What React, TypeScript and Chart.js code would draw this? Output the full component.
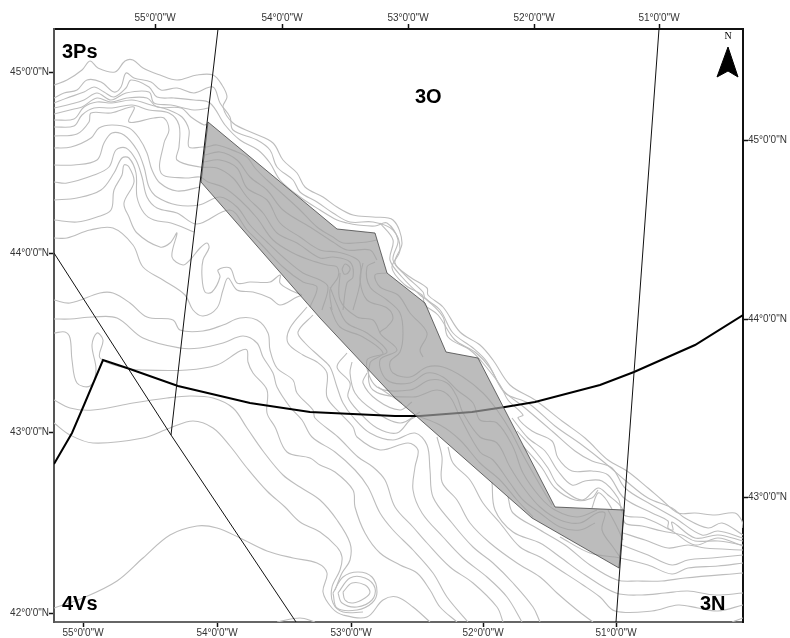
import React, { useEffect, useRef } from "react";
import { Chart, registerables } from "chart.js";

Chart.register(...registerables);

// Map units: easting / southing across the map frame.
const xMin = 54, xMax = 743, yMin = 29, yMax = 622;

const topTickValues = [155, 282, 408, 534, 659];
const topTickLabels = ["55°0'0\"W", "54°0'0\"W", "53°0'0\"W", "52°0'0\"W", "51°0'0\"W"];
const bottomTickValues = [83, 217, 351, 483, 616];
const bottomTickLabels = ["55°0'0\"W", "54°0'0\"W", "53°0'0\"W", "52°0'0\"W", "51°0'0\"W"];
const leftTickValues = [72, 253, 432, 613];
const leftTickLabels = ["45°0'0\"N", "44°0'0\"N", "43°0'0\"N", "42°0'0\"N"];
const rightTickValues = [140, 319, 497];
const rightTickLabels = ["45°0'0\"N", "44°0'0\"N", "43°0'0\"N"];

const divisionNames = ["3Ps", "3O", "4Vs", "3N"];
const divisionAnchors = [[62, 52], [415, 97], [62, 604], [700, 604]];

type P = number[][];

const closedArea: P = [[208,122],[201,182],[320,318],[395,398],[415,415],[532,518],[619,568],[624,510],[555,507],[478,358],[446,352],[425,303],[387,273],[375,233],[337,229],[208,122]];
const boundaryLine: P = [[54,464],[72,433],[84,405],[103,360],[127,368],[178,386],[250,403],[310,412],[395,416],[420,416],[472,412],[505,407],[535,402],[600,385],[634,372],[695,345],[743,315]];
const divisionLineA: P = [[218,29],[184,320],[171,435]];
const divisionLineB: P = [[54,253],[171,435],[296,622]];
const divisionLineC: P = [[659,29],[638,318],[624,510],[616,622]];
const northArrow: P = [[728,47],[717,77],[728,71],[738,77],[728,47]];
const northLabelAnchor = [[728, 36]];

const slope1: P = [[54,85],[67,80],[82,70],[90,61],[98,68],[115,72],[125,61],[133,60],[143,68],[160,75],[177,80],[197,75],[213,75],[222,85],[227,97],[223,107],[233,123],[253,133],[273,143],[283,160],[297,173],[305,187],[323,197],[337,207],[353,215],[373,217],[393,220],[402,243],[395,263],[410,277],[427,288],[428,295],[443,307],[460,332],[480,345],[493,360],[510,385],[535,400],[562,421],[585,438],[608,460],[627,471],[648,488],[662,500],[678,513],[695,513],[715,515],[735,513],[742,521],[743,528]];
const slope2: P = [[54,98],[64,93],[77,90],[87,80],[101,82],[114,92],[121,87],[126,73],[134,78],[151,82],[161,90],[177,88],[194,93],[213,87],[220,103],[230,117],[233,130],[257,140],[270,150],[277,167],[293,180],[300,192],[317,202],[333,213],[350,222],[373,222],[393,230],[400,250],[392,268],[405,285],[422,295],[425,305],[438,315],[455,340],[475,352],[490,368],[505,393],[528,403],[555,426],[582,445],[605,463],[626,481],[648,498],[672,508],[685,518],[708,528],[722,523],[743,535]];
const slope3: P = [[54,103],[67,98],[84,92],[94,87],[104,92],[114,97],[126,88],[131,80],[149,87],[157,97],[174,98],[194,100],[210,103],[225,125],[240,140],[258,150],[270,163],[280,180],[300,197],[320,210],[337,220],[347,223],[358,225],[375,226],[387,223],[398,240],[393,260],[405,275],[423,292],[425,298],[440,310],[453,333],[473,348],[487,362],[503,390],[525,408],[552,431],[575,451],[592,461],[612,468],[625,488],[652,505],[675,518],[702,535],[718,531],[743,538]];
const slope4: P = [[380,223],[393,240],[390,260],[402,277],[420,295],[427,300],[443,317],[448,337],[470,350],[482,362],[500,385],[508,400],[523,415],[518,418],[532,431],[552,441],[558,458],[572,471],[592,471],[608,475],[624,498],[652,513],[668,521],[668,528],[673,530],[672,522],[695,538],[718,535],[743,541]];
const slope5: P = [[512,418],[528,438],[545,451],[558,471],[572,485],[585,481],[602,481],[618,498],[624,515],[645,518],[672,531],[695,545],[718,538],[743,546]];
const slope6: P = [[517,431],[535,451],[548,468],[558,485],[582,500],[598,488],[608,495],[622,508],[625,523],[642,526],[662,531],[682,535],[695,541],[718,541],[743,545]];
const slope7: P = [[523,446],[542,468],[555,488],[575,500],[592,498],[598,490]];
const hillock: P = [[592,508],[598,493],[605,498],[612,509]];

const bend1: P = [[54,108],[71,104],[84,100],[97,93],[111,100],[126,93],[149,92],[154,103],[171,105],[194,110],[209,108]];
const bend2: P = [[54,114],[74,109],[82,107],[97,98],[111,102],[127,98],[147,98],[157,107],[181,108],[191,117],[204,125],[207,124]];
const bend3: P = [[54,120],[74,119],[84,107],[97,102],[112,103],[132,100],[151,105],[169,110],[182,117],[189,130],[189,147],[202,147],[207,147]];
const bend4: P = [[54,127],[74,126],[82,115],[94,108],[112,108],[132,105],[149,110],[169,113],[179,125],[179,147],[177,160],[200,167],[217,168],[233,178],[247,197],[263,213],[277,233],[297,243],[320,258],[333,257],[350,262],[353,277],[347,283],[343,310]];
const bend5: P = [[54,136],[77,134],[89,122],[91,113],[111,113],[134,107],[129,122],[154,118],[164,118],[169,130],[164,143],[161,173],[185,178],[200,177],[208,182],[223,187],[240,200],[257,218],[273,240],[293,253],[310,260],[327,265],[337,267],[338,277],[330,290],[332,310]];
const bend6: P = [[54,148],[71,147],[91,138],[99,128],[112,125],[129,128],[139,138],[147,153],[152,170],[160,183],[177,191],[200,187]];
const bend7: P = [[54,165],[74,165],[97,160],[104,143],[112,133],[124,135],[137,150],[144,167],[149,187],[157,197],[177,205],[199,205],[220,197],[237,207],[250,225],[267,242],[283,257],[303,273],[320,280],[328,287],[322,310]];
const bend8: P = [[54,182],[67,183],[94,175],[109,167],[116,150],[126,148],[136,160],[142,177],[147,197],[157,208],[177,213],[197,224],[230,210],[247,230],[260,243],[283,267],[303,282],[317,287],[310,307]];
const bend9: P = [[54,200],[77,198],[101,190],[114,173],[122,158],[129,158],[136,173],[137,197],[144,213],[154,220],[171,223],[194,232]];
const bend10: P = [[54,220],[77,222],[97,217],[111,210],[114,190],[122,175],[124,165],[129,167],[134,182],[124,203],[129,217],[137,233],[160,247],[170,243],[177,233],[172,257],[183,265],[190,260],[200,248],[207,243],[209,248],[203,260],[202,277],[205,292],[212,292],[220,277],[218,270],[230,268],[237,283],[250,282],[270,282],[280,275],[280,283],[290,290],[302,295]];
const bend11: P = [[54,238],[67,238],[90,230],[113,228],[133,245],[143,267],[163,280],[185,295],[193,310],[203,316],[217,308],[223,290],[228,278],[237,290],[253,292],[270,298],[280,305],[297,297],[302,295]];
const bend12: P = [[54,300],[70,303],[100,293],[113,293],[130,303],[147,317],[173,320],[180,330],[203,331],[223,325],[240,318],[257,320],[268,333],[270,350],[277,368],[293,380],[297,393],[313,410],[315,418],[338,437],[358,457],[373,467],[385,480],[395,507],[413,527],[427,543],[450,567],[473,583],[497,607],[503,622]];
const bend13: P = [[54,319],[70,319],[93,317],[117,318],[143,338],[180,348],[200,348],[223,343],[243,336],[257,343],[263,357],[273,373],[277,387],[290,407],[302,420],[312,437],[335,452],[355,470],[368,487],[380,513],[393,530],[413,550],[433,573],[447,597],[468,622]];
const bend14: P = [[54,333],[65,332],[70,338],[72,360],[77,383],[90,386],[96,370],[92,345],[97,333],[103,340],[100,358],[125,368],[143,370],[187,370],[217,365],[240,351],[247,350],[248,362],[253,373],[267,390],[267,413],[275,427],[287,452],[310,458],[320,465],[335,472],[353,490],[355,507],[365,533],[380,553],[400,565],[417,573],[430,590],[440,607],[457,622]];
const bend15: P = [[54,400],[70,408],[93,410],[133,403],[167,398],[190,396],[213,398],[233,408],[247,428],[263,451],[283,475],[300,487],[320,500],[337,520],[350,543],[350,560],[342,573],[335,590]];
const bend16: P = [[54,423],[70,435],[93,443],[143,438],[170,428],[193,421],[213,428],[230,446],[247,468],[267,491],[285,507],[300,522],[320,532],[337,547],[342,557],[340,570],[332,587],[333,603],[343,612],[363,612]];
const bend17: P = [[54,608],[83,598],[117,581],[143,558],[170,535],[197,526],[217,528],[240,538],[267,551],[293,558],[317,563],[327,573],[323,592],[332,608],[343,615],[367,617],[383,600],[397,597],[413,607],[430,622]];
const bump: P = [[277,622],[300,618],[315,622]];
const seamount1: P = [[343,592],[352,583],[365,585],[370,592],[365,598],[353,603],[345,600],[343,592]];
const seamount2: P = [[338,593],[350,578],[365,578],[375,588],[372,600],[357,607],[342,603],[338,593]];
const seamount3: P = [[333,593],[343,577],[358,572],[372,577],[377,592],[372,603],[357,610],[337,608],[333,593]];

const trough1: P = [[307,307],[290,328],[288,343],[303,355],[317,362],[327,373],[327,397],[340,413],[353,427],[357,437],[380,450],[408,443],[418,450],[415,467],[413,490],[422,513],[443,537],[463,558],[487,577],[507,597],[522,622]];
const trough2: P = [[313,315],[298,332],[305,343],[320,357],[330,367],[337,387],[343,403],[353,417],[370,433],[393,440],[415,433],[427,445],[430,470],[433,497],[452,523],[473,547],[493,563],[513,583],[533,607],[540,622]];
const trough3: P = [[347,353],[337,367],[350,383],[348,397],[360,413],[377,428],[397,433],[410,420],[415,417]];
const trough4: P = [[352,362],[350,373],[355,393],[373,410],[400,423],[420,412]];
const trough5: P = [[367,373],[363,383],[377,400],[400,410],[412,402]];
const trough6: P = [[378,387],[393,397],[402,403]];
const fan1: P = [[437,437],[442,457],[442,482],[457,500],[470,523],[490,543],[517,563],[540,577],[557,593],[577,610],[593,622]];
const fan2: P = [[448,447],[453,463],[470,480],[483,503],[500,523],[520,547],[540,557],[560,570],[583,585],[600,597],[615,611],[652,611],[678,605],[698,608],[718,611],[743,605]];
const fan3: P = [[492,482],[495,510],[513,532],[540,543],[560,557],[585,575],[616,593],[642,595],[665,593],[688,591],[715,595],[743,593]];
const fan4: P = [[508,497],[513,513],[540,530],[565,545],[590,565],[617,580],[638,581],[662,581],[685,578],[743,573]];
const fan5: P = [[560,537],[590,553],[620,558],[648,565],[672,574],[688,568],[718,566],[743,563]];
const fan6: P = [[622,545],[648,555],[672,565],[688,560],[712,558],[743,555]];
const fan7: P = [[623,533],[645,540],[668,548],[688,545],[705,548],[743,550]];
const corner: P = [[732,622],[743,618]];

const inner1: P = [[207,147],[217,145],[237,152],[247,157],[255,168],[267,180],[287,198],[300,210],[317,227],[333,237],[343,243],[367,242],[377,240]];
const inner2: P = [[205,155],[220,152],[237,160],[250,177],[267,190],[283,210],[310,227],[333,242],[347,250],[370,250],[377,260]];
const inner3: P = [[203,162],[220,160],[237,168],[247,188],[267,200],[280,223],[300,237],[320,250],[337,252],[353,257],[360,263],[360,283],[353,310]];
const knoll: P = [[342,269],[345,264],[350,268],[348,273],[344,274],[342,269]];
const inner4: P = [[375,262],[367,267],[370,287],[387,300],[400,313],[403,333],[400,352],[390,362],[393,373],[410,377],[427,367],[443,367],[463,377],[483,393],[497,410],[510,430],[523,455],[540,485],[552,505]];
const inner5: P = [[387,273],[375,275],[380,287],[398,295],[410,313],[427,333],[420,350],[423,357]];
const inner6: P = [[363,263],[360,280],[367,300],[387,308],[393,318],[387,327],[380,333],[397,350],[380,360],[387,380],[410,383],[427,373],[443,377],[457,390],[473,403],[480,420],[497,423],[513,447],[523,473],[540,497],[555,510],[577,517],[597,510]];
const inner7: P = [[340,273],[340,300],[357,317],[373,320],[380,333]];
const inner8: P = [[330,287],[338,307],[347,323],[367,333],[387,352],[367,360],[377,387],[410,390],[430,380],[447,383],[457,397],[463,413],[480,437],[497,443],[510,467],[523,487],[540,507],[560,520],[580,523],[597,513],[605,513],[602,530],[613,547],[620,557]];
const inner9: P = [[330,307],[340,327],[363,337],[383,353],[370,363],[373,390],[413,397],[437,390],[450,397],[460,417],[480,452],[493,460],[510,483],[523,500],[540,513],[560,527],[580,530],[595,523]];
const inner10: P = [[415,415],[440,425],[460,440],[480,463],[500,480],[517,500],[533,517]];
const inner11: P = [[608,510],[617,527],[623,540]];

const contourLines: P[] = [slope1,slope2,slope3,slope4,slope5,slope6,slope7,hillock,bend1,bend2,bend3,bend4,bend5,bend6,bend7,bend8,bend9,bend10,bend11,bend12,bend13,bend14,bend15,bend16,bend17,bump,seamount1,seamount2,seamount3,trough1,trough2,trough3,trough4,trough5,trough6,fan1,fan2,fan3,fan4,fan5,fan6,fan7,corner,inner1,inner2,inner3,knoll,inner4,inner5,inner6,inner7,inner8,inner9,inner10,inner11];

const pts = (p: P) => p.map(([x, y]) => ({ x, y }));

const FONT = "'Liberation Sans', Arial, sans-serif";

const labelPlugin = {
  id: "mapLabels",
  afterDatasetsDraw(chart: any) {
    const { ctx, scales } = chart;
    ctx.save();
    ctx.fillStyle = "#000";
    ctx.textBaseline = "middle";
    ctx.textAlign = "left";
    ctx.font = `bold 20px ${FONT}`;
    divisionNames.forEach((t, i) => {
      const [x, y] = divisionAnchors[i];
      ctx.fillText(t, scales.x.getPixelForValue(x), scales.y.getPixelForValue(y));
    });
    ctx.font = "10px 'Liberation Serif', serif";
    ctx.textAlign = "center";
    const [nx, ny] = northLabelAnchor[0];
    ctx.fillText("N", scales.x.getPixelForValue(nx), scales.y.getPixelForValue(ny));
    ctx.restore();
  },
};

function axis(position: string, values: number[], labels: string[], min: number, max: number, thickness: number, borderColor: string, reverse = false) {
  const horizontal = position === "top" || position === "bottom";
  return {
    type: "linear",
    position,
    min,
    max,
    reverse,
    offset: false,
    afterFit(scale: any) {
      if (horizontal) scale.height = thickness;
      else scale.width = thickness;
    },
    afterBuildTicks(scale: any) {
      scale.ticks = values.map((value) => ({ value }));
    },
    border: { display: true, color: borderColor, width: 2 },
    grid: { display: true, drawOnChartArea: false, drawTicks: true, tickLength: 5, color: "#111", tickWidth: 1.5 },
    ticks: {
      autoSkip: false,
      maxRotation: 0,
      minRotation: 0,
      padding: 0,
      color: "#333",
      font: { family: FONT, size: 10 },
      callback: (v: number) => {
        const i = values.indexOf(v);
        return i >= 0 ? labels[i] : "";
      },
    },
  };
}

export default function App() {
  const ref = useRef<HTMLCanvasElement>(null);
  useEffect(() => {
    if (!ref.current) return;
    const line = (data: P, extra: any) => ({
      type: "scatter",
      data: pts(data),
      showLine: true,
      pointRadius: 0,
      pointHoverRadius: 0,
      fill: false,
      ...extra,
    });
    const datasets: any[] = [
      line(divisionLineA, { borderColor: "#111", borderWidth: 1, order: 0 }),
      line(divisionLineB, { borderColor: "#111", borderWidth: 1, order: 0 }),
      line(divisionLineC, { borderColor: "#111", borderWidth: 1, order: 0 }),
      line(northArrow, { borderColor: "#000", borderWidth: 1, backgroundColor: "#000", fill: "shape", order: 0 }),
      line(closedArea, { borderColor: "rgba(60,60,60,0.75)", borderWidth: 1, backgroundColor: "rgba(160,160,160,0.7)", fill: "shape", order: 1 }),
      line(boundaryLine, { borderColor: "#000", borderWidth: 2, tension: 0, order: 2 }),
      ...contourLines.map((c) => line(c, { borderColor: "#bdbdbd", borderWidth: 1.1, tension: 0.35, order: 3 })),
    ];
    const chart = new Chart(ref.current, {
      type: "scatter",
      data: { datasets },
      options: {
        animation: false,
        responsive: false,
        layout: { padding: 0 },
        plugins: { legend: { display: false }, tooltip: { enabled: false } },
        scales: {
          x: axis("top", topTickValues, topTickLabels, xMin, xMax, 29, "#111"),
          xb: axis("bottom", bottomTickValues, bottomTickLabels, xMin, xMax, 16, "#666"),
          y: axis("left", leftTickValues, leftTickLabels, yMin, yMax, 54, "#555", true),
          yr: axis("right", rightTickValues, rightTickLabels, yMin, yMax, 47, "#111", true),
        },
      } as any,
      plugins: [labelPlugin],
    } as any);
    return () => chart.destroy();
  }, []);
  return (
    <div style={{ position: "fixed", left: 0, top: 0, width: 790, height: 638, background: "#fff" }}>
      <canvas ref={ref} width={790} height={638} style={{ display: "block" }} />
    </div>
  );
}
